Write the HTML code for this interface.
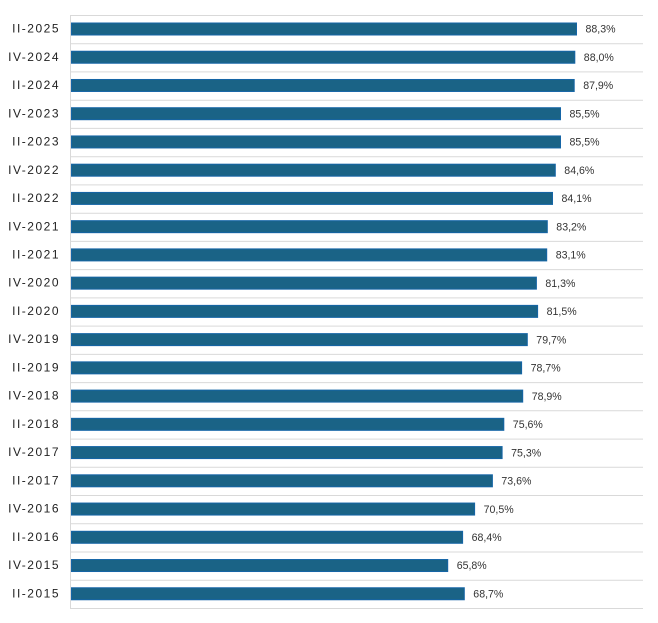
<!DOCTYPE html>
<html><head><meta charset="utf-8"><style>
html,body{margin:0;padding:0;background:#fff;}
svg{display:block;}
.yl{font-family:"Liberation Sans",sans-serif;font-size:12px;fill:#222;letter-spacing:1.5px;text-anchor:end;}
.vl{font-family:"Liberation Sans",sans-serif;font-size:10.6px;fill:#333;}
.b{fill:#1a6386;stroke:#1565a6;stroke-width:1;}
.g{stroke:#d9d9d9;stroke-width:1;}
</style></head><body>
<svg width="658" height="623" viewBox="0 0 658 623" xmlns="http://www.w3.org/2000/svg">
<g class="g">
<line x1="70" x2="643" y1="15.5" y2="15.5"/>
<line x1="70" x2="643" y1="43.7" y2="43.7"/>
<line x1="70" x2="643" y1="71.9" y2="71.9"/>
<line x1="70" x2="643" y1="100.2" y2="100.2"/>
<line x1="70" x2="643" y1="128.4" y2="128.4"/>
<line x1="70" x2="643" y1="156.7" y2="156.7"/>
<line x1="70" x2="643" y1="184.9" y2="184.9"/>
<line x1="70" x2="643" y1="213.2" y2="213.2"/>
<line x1="70" x2="643" y1="241.4" y2="241.4"/>
<line x1="70" x2="643" y1="269.6" y2="269.6"/>
<line x1="70" x2="643" y1="297.9" y2="297.9"/>
<line x1="70" x2="643" y1="326.1" y2="326.1"/>
<line x1="70" x2="643" y1="354.4" y2="354.4"/>
<line x1="70" x2="643" y1="382.6" y2="382.6"/>
<line x1="70" x2="643" y1="410.8" y2="410.8"/>
<line x1="70" x2="643" y1="439.1" y2="439.1"/>
<line x1="70" x2="643" y1="467.3" y2="467.3"/>
<line x1="70" x2="643" y1="495.5" y2="495.5"/>
<line x1="70" x2="643" y1="523.8" y2="523.8"/>
<line x1="70" x2="643" y1="552.0" y2="552.0"/>
<line x1="70" x2="643" y1="580.3" y2="580.3"/>
<line x1="70" x2="643" y1="608.5" y2="608.5"/>
<line x1="70.5" x2="70.5" y1="15" y2="609"/>
</g>
<g>
<rect class="b" x="71.5" y="23" width="505" height="12"/>
<rect class="b" x="71.5" y="51.24" width="503.3" height="12"/>
<rect class="b" x="71.5" y="79.48" width="502.7" height="12"/>
<rect class="b" x="71.5" y="107.71" width="489" height="12"/>
<rect class="b" x="71.5" y="135.95" width="489" height="12"/>
<rect class="b" x="71.5" y="164.19" width="483.8" height="12"/>
<rect class="b" x="71.5" y="192.43" width="481" height="12"/>
<rect class="b" x="71.5" y="220.67" width="475.8" height="12"/>
<rect class="b" x="71.5" y="248.9" width="475.2" height="12"/>
<rect class="b" x="71.5" y="277.14" width="464.9" height="12"/>
<rect class="b" x="71.5" y="305.38" width="466.1" height="12"/>
<rect class="b" x="71.5" y="333.62" width="455.8" height="12"/>
<rect class="b" x="71.5" y="361.86" width="450.1" height="12"/>
<rect class="b" x="71.5" y="390.1" width="451.2" height="12"/>
<rect class="b" x="71.5" y="418.33" width="432.3" height="12"/>
<rect class="b" x="71.5" y="446.57" width="430.6" height="12"/>
<rect class="b" x="71.5" y="474.81" width="420.9" height="12"/>
<rect class="b" x="71.5" y="503.05" width="403.1" height="12"/>
<rect class="b" x="71.5" y="531.29" width="391.1" height="12"/>
<rect class="b" x="71.5" y="559.52" width="376.2" height="12"/>
<rect class="b" x="71.5" y="587.76" width="392.8" height="12"/>
</g>
<g>
<text class="yl" x="60" y="32.6">II-2025</text>
<text class="yl" x="60" y="60.8">IV-2024</text>
<text class="yl" x="60" y="89.1">II-2024</text>
<text class="yl" x="60" y="117.3">IV-2023</text>
<text class="yl" x="60" y="145.5">II-2023</text>
<text class="yl" x="60" y="173.8">IV-2022</text>
<text class="yl" x="60" y="202.0">II-2022</text>
<text class="yl" x="60" y="230.3">IV-2021</text>
<text class="yl" x="60" y="258.5">II-2021</text>
<text class="yl" x="60" y="286.7">IV-2020</text>
<text class="yl" x="60" y="315.0">II-2020</text>
<text class="yl" x="60" y="343.2">IV-2019</text>
<text class="yl" x="60" y="371.5">II-2019</text>
<text class="yl" x="60" y="399.7">IV-2018</text>
<text class="yl" x="60" y="427.9">II-2018</text>
<text class="yl" x="60" y="456.2">IV-2017</text>
<text class="yl" x="60" y="484.4">II-2017</text>
<text class="yl" x="60" y="512.7">IV-2016</text>
<text class="yl" x="60" y="540.9">II-2016</text>
<text class="yl" x="60" y="569.1">IV-2015</text>
<text class="yl" x="60" y="597.4">II-2015</text>
</g>
<g>
<text class="vl" x="585.5" y="32.7">88,3%</text>
<text class="vl" x="583.8" y="60.9">88,0%</text>
<text class="vl" x="583.2" y="89.2">87,9%</text>
<text class="vl" x="569.5" y="117.4">85,5%</text>
<text class="vl" x="569.5" y="145.6">85,5%</text>
<text class="vl" x="564.3" y="173.9">84,6%</text>
<text class="vl" x="561.5" y="202.1">84,1%</text>
<text class="vl" x="556.3" y="230.4">83,2%</text>
<text class="vl" x="555.7" y="258.6">83,1%</text>
<text class="vl" x="545.4" y="286.8">81,3%</text>
<text class="vl" x="546.6" y="315.1">81,5%</text>
<text class="vl" x="536.3" y="343.3">79,7%</text>
<text class="vl" x="530.6" y="371.6">78,7%</text>
<text class="vl" x="531.7" y="399.8">78,9%</text>
<text class="vl" x="512.8" y="428.0">75,6%</text>
<text class="vl" x="511.1" y="456.3">75,3%</text>
<text class="vl" x="501.4" y="484.5">73,6%</text>
<text class="vl" x="483.6" y="512.8">70,5%</text>
<text class="vl" x="471.6" y="541.0">68,4%</text>
<text class="vl" x="456.7" y="569.2">65,8%</text>
<text class="vl" x="473.3" y="597.5">68,7%</text>
</g>
</svg>
</body></html>
